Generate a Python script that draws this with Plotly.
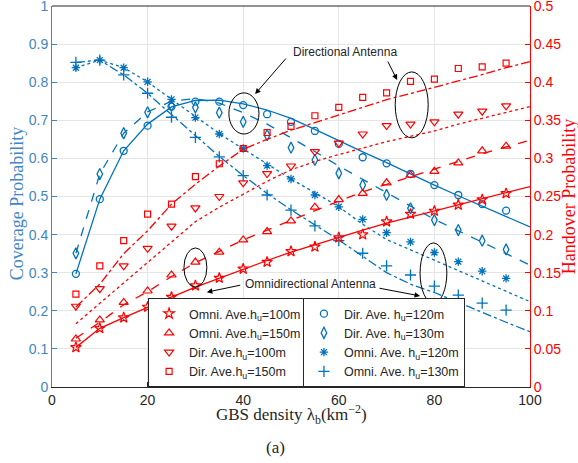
import plotly.graph_objects as go

# ---------------- data ----------------
x_mark = [5, 10, 15, 20, 25, 30, 35, 40, 45, 50, 55, 60, 65, 70, 75, 80, 85, 90, 95]
x_line = [5, 10, 15, 20, 25, 30, 35, 40, 45, 50, 55, 60, 65, 70, 75, 80, 85, 90, 95, 100]

# Coverage probability (left axis) - simulation markers
dir120_mk = [0.297, 0.493, 0.620, 0.686, 0.736, 0.749, 0.749, 0.740, 0.716, 0.696, 0.672, 0.638, 0.603, 0.587, 0.559, 0.530, 0.504, 0.480, 0.463]
dir130_mk = [0.351, 0.559, 0.666, 0.721, 0.738, 0.734, 0.720, 0.696, 0.661, 0.628, 0.596, 0.561, 0.530, 0.504, 0.469, 0.438, 0.412, 0.384, 0.361]
omni120_mk = [0.838, 0.858, 0.838, 0.801, 0.755, 0.707, 0.664, 0.626, 0.581, 0.546, 0.504, 0.473, 0.440, 0.405, 0.381, 0.353, 0.329, 0.304, 0.285]
omni130_mk = [0.852, 0.858, 0.819, 0.771, 0.708, 0.655, 0.604, 0.555, 0.504, 0.464, 0.423, 0.384, 0.351, 0.318, 0.294, 0.265, 0.241, 0.220, 0.202]

# Coverage probability - analytical curves
dir120_ln = [0.297, 0.493, 0.620, 0.690, 0.735, 0.752, 0.753, 0.743, 0.727, 0.705, 0.676, 0.646, 0.617, 0.589, 0.559, 0.530, 0.502, 0.475, 0.447, 0.420]
dir130_ln = [0.351, 0.559, 0.666, 0.722, 0.750, 0.757, 0.745, 0.720, 0.690, 0.655, 0.618, 0.580, 0.545, 0.510, 0.475, 0.440, 0.410, 0.380, 0.350, 0.320]
omni120_ln = [0.838, 0.858, 0.838, 0.801, 0.755, 0.710, 0.665, 0.625, 0.585, 0.546, 0.510, 0.473, 0.427, 0.387, 0.360, 0.333, 0.305, 0.278, 0.250, 0.224]
omni130_ln = [0.852, 0.858, 0.819, 0.771, 0.715, 0.660, 0.605, 0.555, 0.508, 0.465, 0.425, 0.386, 0.343, 0.300, 0.270, 0.248, 0.222, 0.195, 0.170, 0.145]

# Handover probability (right axis) - simulation markers
omni100_mk = [0.052, 0.077, 0.091, 0.105, 0.118, 0.133, 0.143, 0.155, 0.164, 0.178, 0.184, 0.196, 0.200, 0.217, 0.227, 0.231, 0.239, 0.246, 0.254]
omni150_mk = [0.063, 0.088, 0.111, 0.126, 0.147, 0.164, 0.177, 0.193, 0.204, 0.218, 0.236, 0.246, 0.254, 0.268, 0.278, 0.283, 0.294, 0.310, 0.316]
dir100_mk = [0.106, 0.129, 0.159, 0.182, 0.211, 0.235, 0.250, 0.268, 0.280, 0.290, 0.309, 0.320, 0.332, 0.343, 0.345, 0.348, 0.358, 0.362, 0.369]
dir150_mk = [0.122, 0.159, 0.192, 0.227, 0.240, 0.276, 0.293, 0.313, 0.334, 0.342, 0.356, 0.367, 0.380, 0.386, 0.401, 0.404, 0.418, 0.420, 0.425]

# Handover probability - analytical curves
omni100_ln = [0.052, 0.077, 0.091, 0.105, 0.118, 0.131, 0.143, 0.155, 0.166, 0.177, 0.187, 0.196, 0.206, 0.215, 0.223, 0.231, 0.239, 0.247, 0.255, 0.263]
omni150_ln = [0.064, 0.085, 0.108, 0.125, 0.145, 0.163, 0.178, 0.193, 0.206, 0.219, 0.232, 0.244, 0.256, 0.266, 0.277, 0.287, 0.297, 0.306, 0.315, 0.324]
dir100_ln = [0.083, 0.110, 0.137, 0.163, 0.190, 0.217, 0.236, 0.253, 0.270, 0.285, 0.296, 0.305, 0.314, 0.322, 0.329, 0.336, 0.345, 0.353, 0.361, 0.368]
dir150_ln = [0.105, 0.135, 0.175, 0.205, 0.240, 0.266, 0.290, 0.312, 0.325, 0.337, 0.347, 0.357, 0.367, 0.377, 0.385, 0.393, 0.402, 0.410, 0.419, 0.427]

legend1_names = ["Omni. Ave.h<sub>u</sub>=100m", "Omni. Ave.h<sub>u</sub>=150m",
                 "Dir. Ave.h<sub>u</sub>=100m", "Dir. Ave.h<sub>u</sub>=150m"]
legend2_names = ["Dir. Ave. h<sub>u</sub>=120m", "Dir. Ave. h<sub>u</sub>=130m",
                 "Omni. Ave. h<sub>u</sub>=120m", "Omni. Ave. h<sub>u</sub>=130m"]

x_ticks = [0, 20, 40, 60, 80, 100]
y_ticks = [0, 0.1, 0.2, 0.3, 0.4, 0.5, 0.6, 0.7, 0.8, 0.9, 1]
y2_ticks = [0, 0.05, 0.1, 0.15, 0.2, 0.25, 0.3, 0.35, 0.4, 0.45, 0.5]
y2_labels = ["0", "0.05", "0.1", "0.15", "0.2", "0.25", "0.3", "0.35", "0.4", "0.45", "0.5"]

# ---------------- styles ----------------
BLUE = "#0072BD"
BLUE_TXT = "#3f86c4"
RED = "#FF0000"
SANS = "Liberation Sans, Arial, sans-serif"
SERIF = "Liberation Serif, Times New Roman, serif"

fig = go.Figure()

blue_lines = [(dir120_ln, "solid"), (dir130_ln, "dash"), (omni120_ln, "dot"), (omni130_ln, "dashdot")]
red_lines = [(omni100_ln, "solid"), (omni150_ln, "dash"), (dir100_ln, "dot"), (dir150_ln, "dashdot")]

for ys, dash in blue_lines:
    fig.add_trace(go.Scatter(x=x_line, y=ys, mode="lines", showlegend=False,
                             line=dict(color=BLUE, width=1.3, dash=dash), hoverinfo="skip"))
for ys, dash in red_lines:
    fig.add_trace(go.Scatter(x=x_line, y=ys, mode="lines", showlegend=False, yaxis="y2",
                             line=dict(color=RED, width=1.3, dash=dash), hoverinfo="skip"))

red_marks = [(omni100_mk, "star-open", 8), (omni150_mk, "triangle-up-open", 8),
             (dir100_mk, "triangle-down-open", 8), (dir150_mk, "square-open", 6)]
for (ys, sym, sz), name in zip(red_marks, legend1_names):
    fig.add_trace(go.Scatter(x=x_mark, y=ys, mode="markers", name=name, yaxis="y2",
                             legend="legend",
                             marker=dict(symbol=sym, size=sz, color=RED,
                                         line=dict(color=RED, width=1.2))))

blue_marks = [(dir120_mk, "circle-open", 7), (dir130_mk, "diamond-tall-open", 8),
              (omni120_mk, "asterisk-open", 7), (omni130_mk, "cross-thin-open", 8)]
for (ys, sym, sz), name in zip(blue_marks, legend2_names):
    fig.add_trace(go.Scatter(x=x_mark, y=ys, mode="markers", name=name,
                             legend="legend2",
                             marker=dict(symbol=sym, size=sz, color=BLUE,
                                         line=dict(color=BLUE, width=1.3))))

ell = dict(type="circle", xref="x", yref="y", line=dict(color="black", width=1))
shapes = [
    dict(ell, x0=37.0, x1=43.3, y0=0.664, y1=0.772),
    dict(ell, x0=71.8, x1=78.7, y0=0.654, y1=0.827),
    dict(ell, x0=27.6, x1=32.4, y0=0.262, y1=0.365),
    dict(ell, x0=77.0, x1=82.6, y0=0.220, y1=0.378),
    dict(type="line", xref="paper", yref="paper", x0=0, x1=1, y0=1, y1=1,
         line=dict(color="#262626", width=1)),
]

arrow = dict(showarrow=True, arrowhead=2, arrowsize=1.1, arrowwidth=1, arrowcolor="black",
             axref="x", ayref="y", xref="x", yref="y", text="")
annotations = [
    dict(x=61.3, y=0.879, xref="x", yref="y", text="Directional Antenna", showarrow=False,
         xanchor="center", font=dict(family=SANS, size=12, color="#262626")),
    dict(arrow, x=42.5, y=0.769, ax=49.2, ay=0.866),
    dict(arrow, x=72.2, y=0.806, ax=70.1, ay=0.858),
    dict(x=54.0, y=0.270, xref="x", yref="y", text="Omnidirectional Antenna", showarrow=False,
         xanchor="center", font=dict(family=SANS, size=12, color="#262626")),
    dict(arrow, x=32.4, y=0.249, ax=39.7, ay=0.268),
    dict(arrow, x=77.0, y=0.239, ax=68.2, ay=0.260),
    dict(xref="paper", yref="paper", x=0.5, y=-0.072, xanchor="center", yanchor="middle",
         showarrow=False, text="GBS density λ<sub>b</sub>(km<sup>−2</sup>)",
         font=dict(family=SERIF, size=17, color="#262626")),
    dict(xref="paper", yref="paper", x=-0.073, y=0.48, xanchor="center", yanchor="middle",
         textangle=-90, showarrow=False,
         text="Coverage Probability", font=dict(family=SERIF, size=18, color=BLUE_TXT)),
    dict(xref="paper", yref="paper", x=1.081, y=0.50, xanchor="center", yanchor="middle",
         textangle=-90, showarrow=False,
         text="Handover Probability", font=dict(family=SERIF, size=18, color=RED)),
    dict(xref="paper", yref="paper", x=0.467, y=-0.16, xanchor="center", yanchor="middle",
         showarrow=False, text="(a)", font=dict(family=SERIF, size=17, color="#262626")),
]

legend_style = dict(xanchor="left", yanchor="bottom", bgcolor="white",
                    bordercolor="#262626", borderwidth=1,
                    font=dict(family=SANS, size=12.5, color="#262626"),
                    tracegroupgap=0, itemsizing="trace")

fig.update_layout(
    width=578, height=463,
    margin=dict(l=52, r=48, t=6, b=76, autoexpand=False),
    paper_bgcolor="white", plot_bgcolor="white",
    shapes=shapes, annotations=annotations,
    legend=dict(legend_style, x=0.201, y=0.0),
    legend2=dict(legend_style, x=0.525, y=0.0),
    xaxis=dict(range=[0, 100], tickvals=x_ticks, showgrid=True, gridcolor="#e5e5e5",
               zeroline=False, showline=True, linecolor="#262626", linewidth=1,
               ticks="inside", ticklen=5, tickcolor="#262626", automargin=False,
               ticklabeloverflow="allow",
               tickfont=dict(family=SANS, size=14, color="#262626")),
    yaxis=dict(range=[0, 1], tickvals=y_ticks, showgrid=True, gridcolor="#e5e5e5",
               zeroline=False, showline=True, linecolor=BLUE_TXT, linewidth=1,
               ticks="inside", ticklen=5, tickcolor=BLUE_TXT, automargin=False,
               ticklabeloverflow="allow",
               tickfont=dict(family=SANS, size=14, color=BLUE_TXT)),
    yaxis2=dict(range=[0, 0.5], tickvals=y2_ticks, ticktext=y2_labels, overlaying="y",
                side="right", showgrid=False,
                zeroline=False, showline=True, linecolor=RED, linewidth=1,
                ticks="inside", ticklen=5, tickcolor=RED, automargin=False,
                ticklabeloverflow="allow",
                tickfont=dict(family=SANS, size=14, color=RED)),
)

fig.write_html("out.html", config={"displayModeBar": False},
               post_script="document.body.style.margin='0';document.body.style.overflow='hidden';")
